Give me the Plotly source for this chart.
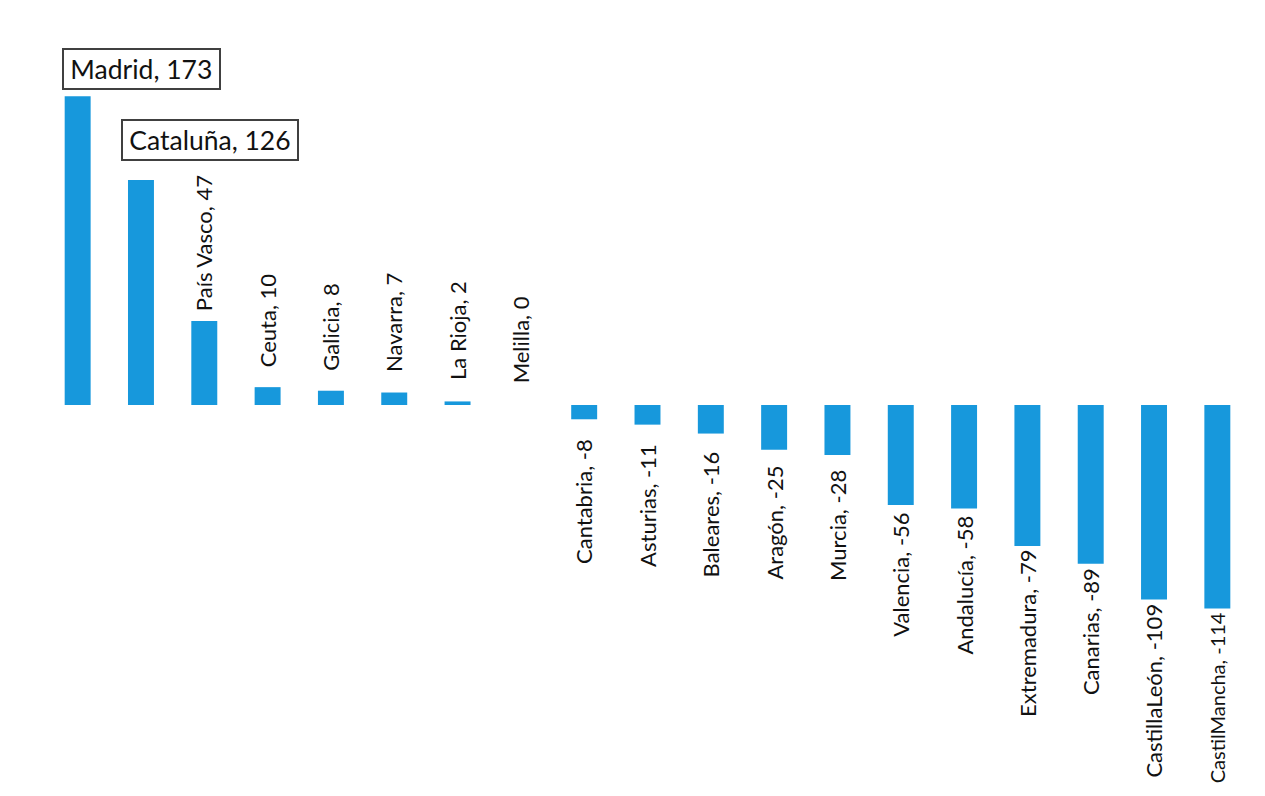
import plotly.graph_objects as go

regions = ["Madrid", "Cataluña", "País Vasco", "Ceuta", "Galicia", "Navarra", "La Rioja",
           "Melilla", "Cantabria", "Asturias", "Baleares", "Aragón", "Murcia", "Valencia",
           "Andalucía", "Extremadura", "Canarias", "CastillaLeón", "CastilMancha"]
values = [173, 126, 47, 10, 8, 7, 2, 0, -8, -11, -16, -25, -28, -56, -58, -79, -89, -109, -114]
boxed = ["Madrid", "Cataluña"]

FONT = "Lato"
BAR_COLOR = "#1798dc"

fig = go.Figure(go.Bar(
    x=regions, y=values,
    marker=dict(color=BAR_COLOR, line=dict(width=0)),
    hoverinfo="x+y",
))

annotations = []
for i, (name, v) in enumerate(zip(regions, values)):
    label = f"{name}, {v}"
    if name in boxed:
        shift = 6 if name == "Madrid" else 19
        xs = -16 if name == "Madrid" else -20
        annotations.append(dict(
            x=name, y=v, xref="x", yref="y", text="\u2009" + label + "\u2009", showarrow=False,
            xanchor="left", yanchor="bottom", xshift=xs, yshift=shift,
            font=dict(family=FONT, size=26.5, color="#111111"),
            bordercolor="#404040", borderwidth=2, borderpad=3, bgcolor="white",
        ))
    else:
        pos = v >= 0
        gap = max(2, 20 - 0.25 * abs(v))
        size = 20 if i == len(regions) - 1 else 22
        annotations.append(dict(
            x=name, y=v, xref="x", yref="y", text=label, showarrow=False,
            textangle=-90, xanchor="center",
            yanchor="bottom" if pos else "top",
            yshift=gap if pos else -gap,
            font=dict(family=FONT, size=size, color="#111111"),
        ))

fig.update_layout(
    width=1255, height=786,
    margin=dict(l=38, r=14, t=40, b=32),
    paper_bgcolor="white", plot_bgcolor="white",
    bargap=0.59,
    showlegend=False,
    xaxis=dict(visible=False, type="category"),
    yaxis=dict(visible=False, range=[-200, 200], zeroline=False, showgrid=False),
    annotations=annotations,
)

fig.write_html("out.html")
